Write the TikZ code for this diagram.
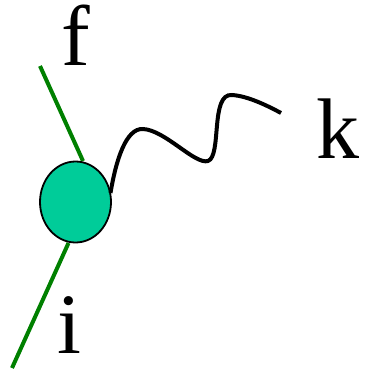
\documentclass[tikz,border=0pt]{standalone}
\usepackage{fontspec}
\setmainfont{Liberation Serif}
\usetikzlibrary{shapes.geometric}
\definecolor{blobfill}{HTML}{00CC99}
\definecolor{legcol}{HTML}{008000}
\begin{document}
\begin{tikzpicture}[x=1pt,y=-1pt,
  leg/.style={draw=legcol,line width=4pt},
  wave/.style={draw=black,line width=4pt},
  blob/.style={ellipse,draw=black,line width=1.8pt,fill=blobfill,minimum width=71pt,minimum height=81pt,inner sep=0pt},
  lbl/.style={font=\fontsize{86}{86}\selectfont,inner sep=0pt}]
\useasboundingbox (0,0) rectangle (365,372);
\coordinate (fend) at (40,66);
\coordinate (ftouch) at (83,161);
\coordinate (iend) at (12,368);
\coordinate (itouch) at (68.5,243);
\coordinate (kend) at (281,113);
\coordinate (wstart) at (110.5,193);
\draw[leg] (fend) -- (ftouch);
\draw[leg] (iend) -- (itouch);
\node[blob] (v) at (75.5,202) {};
\draw[wave] (wstart) .. controls (116,160) and (126,128) .. (143,129)
  .. controls (165,130) and (195,165) .. (208,161)
  .. controls (222,156) and (210,93) .. (232,95)
  .. controls (248,96) and (268,106) .. (kend);
\node[lbl,anchor=base] (f) at (76,65) {f};
\node[lbl,anchor=base west] (k) at (316,158) {k};
\node[lbl,anchor=base] (i) at (69,353) {i};
\end{tikzpicture}
\end{document}
